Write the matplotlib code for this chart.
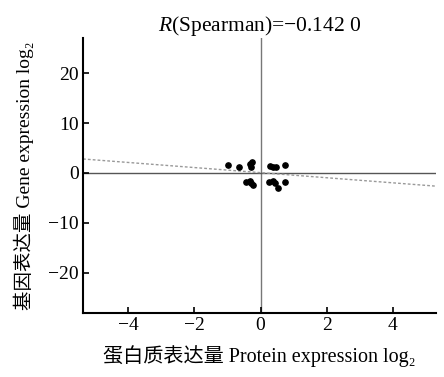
import matplotlib
matplotlib.use("Agg")
import matplotlib.pyplot as plt
import numpy as np

protein = [-0.98, -0.65, -0.33, -0.28, -0.27, 0.29, 0.39, 0.47, 0.73,
           -0.43, -0.33, -0.28, -0.24, 0.27, 0.37, 0.45, 0.73, 0.54]
gene = [1.6, 1.26, 1.8, 1.26, 2.2, 1.46, 1.26, 1.26, 1.6,
        -1.86, -1.54, -2.06, -2.4, -1.86, -1.54, -1.94, -1.86, -2.94]
fit_slope = -0.51
fit_intercept = 0.07
xticks = [-4, -2, 0, 2, 4]
yticks = [-20, -10, 0, 10, 20]
xlim = (-5.36, 5.3)
ylim = (-28, 27)

fams = ['Liberation Serif', 'Noto Sans CJK SC', 'DejaVu Serif']
plt.rcParams['font.family'] = fams
plt.rcParams['mathtext.fontset'] = 'custom'
plt.rcParams['mathtext.rm'] = 'Liberation Serif'
plt.rcParams['mathtext.it'] = 'Liberation Serif:italic'

fig = plt.figure(figsize=(4.44, 3.77), dpi=100)
ax = fig.add_axes([0.187, 0.170, 0.795, 0.729])

ax.axvline(0, color='#777777', lw=1.0, zorder=1)
ax.axhline(0, color='#555555', lw=1.0, zorder=1)
xs = np.array(xlim)
ax.plot(xs, fit_slope * xs + fit_intercept, color='#999999', lw=1.0,
        linestyle=(0, (2, 1.5)), zorder=2)
ax.plot(protein, gene, 'o', color='black', markersize=3.8, zorder=3)

ax.set_xlim(*xlim)
ax.set_ylim(*ylim)
ax.set_xticks(xticks)
ax.set_yticks(yticks)
ax.set_xticklabels(['\u2212' + str(-t) if t < 0 else str(t) for t in xticks])
ax.set_yticklabels(['\u2212' + str(-t) if t < 0 else str(t) for t in yticks])
for s in ['top', 'right']:
    ax.spines[s].set_visible(False)
for s in ['left', 'bottom']:
    ax.spines[s].set_linewidth(1.5)
ax.tick_params(direction='in', length=4, width=1.2, labelsize=14, pad=3)

ax.set_title(r'$R$(Spearman)=$-$0.142 0', fontsize=15.5, pad=5)
ax.set_xlabel('蛋白质表达量 Protein expression log\u2082', fontsize=14.5,
              labelpad=8, family=fams)
ax.set_ylabel('基因表达量 Gene expression log\u2082', fontsize=14,
              labelpad=10, family=fams)

fig.savefig('out.png', dpi=100)
